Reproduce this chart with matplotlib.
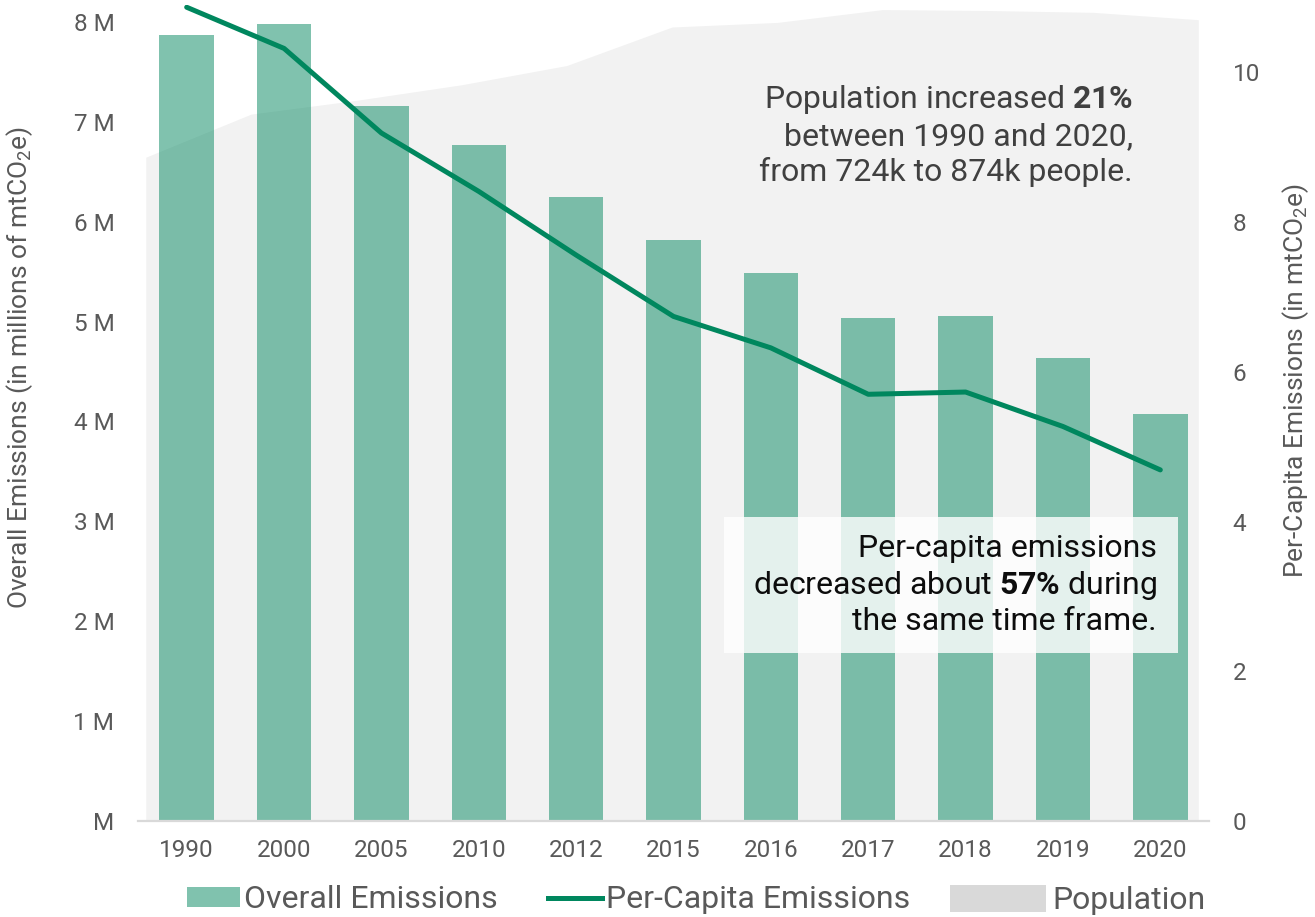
import numpy as np
import matplotlib.pyplot as plt
from matplotlib.patches import Rectangle, Patch
from matplotlib.lines import Line2D
from matplotlib.ticker import FuncFormatter

plt.rcParams['font.family'] = ['Roboto', 'DejaVu Sans']
plt.rcParams['mathtext.fontset'] = 'custom'
plt.rcParams['mathtext.rm'] = 'Roboto'
plt.rcParams['mathtext.bf'] = 'Roboto:bold'
plt.rcParams['mathtext.default'] = 'regular'

years = ['1990', '2000', '2005', '2010', '2012', '2015', '2016', '2017', '2018', '2019', '2020']
overall = [7.87, 7.98, 7.16, 6.77, 6.25, 5.82, 5.49, 5.04, 5.06, 4.64, 4.07]   # millions mtCO2e
per_capita = [10.87, 10.32, 9.19, 8.41, 7.56, 6.74, 6.32, 5.70, 5.73, 5.27, 4.69]
population = [724, 771, 786, 803, 824, 866, 871, 885, 884, 882, 874]   # thousands

bar_col = '#03875f'
line_col = '#00875e'
grey = '#595959'

W, H = 1315, 917
fig = plt.figure(figsize=(W / 100, H / 100), dpi=100)
ax_pop = fig.add_axes([138 / W, 1 - 821 / H, (1209 - 138) / W, (821 - 5) / H])
ax = fig.add_axes(ax_pop.get_position(), sharex=ax_pop)
ax2 = fig.add_axes(ax_pop.get_position(), sharex=ax_pop)
ax_pop.set_zorder(1)
ax.set_zorder(2)
ax2.set_zorder(3)
ax.patch.set_visible(False)
ax2.patch.set_visible(False)

x = np.arange(len(years))

# population area, spread from edge to edge of the plot
xp = np.linspace(-0.42, 10.39, len(years))
ax_pop.fill_between(xp, 0, population, color='#f2f2f2', lw=0)
ax_pop.set_ylim(0, 890)
ax_pop.axis('off')

# bars
ax.bar(x, overall, width=0.56, color=bar_col, alpha=0.5, lw=0)
ax.set_xlim(-0.5, 10.5)
ax.set_ylim(0, 8.17)
ax.set_yticks(range(9))
ax.yaxis.set_major_formatter(FuncFormatter(lambda v, p: 'M' if v == 0 else '%d M' % v))
ax.set_xticks(x)
ax.set_xticklabels(years)
ax.tick_params(axis='y', length=0, pad=17, labelsize=17.5, labelcolor=grey)
ax.tick_params(axis='x', length=0, pad=13, labelsize=17.5, labelcolor=grey)
for s in ['top', 'right', 'left']:
    ax.spines[s].set_visible(False)
ax.spines['bottom'].set_color('#d9d9d9')
ax.spines['bottom'].set_linewidth(1.6)
ax.set_ylabel('Overall Emissions (in millions of mtCO$_2$e)', fontsize=19, color=grey)
ax.yaxis.set_label_coords(-0.096, 0.556)

# per-capita line
ax2.plot(x, per_capita, color=line_col, lw=3.6, solid_capstyle='round', solid_joinstyle='round')
ax2.set_ylim(0, 10.9)
ax2.set_yticks(range(0, 11, 2))
ax2.yaxis.tick_right()
ax2.yaxis.set_label_position('right')
ax2.tick_params(axis='y', length=0, pad=17, labelsize=17.5, labelcolor=grey)
ax2.tick_params(axis='x', bottom=False, labelbottom=False)
for s in ax2.spines.values():
    s.set_visible(False)
ax2.set_ylabel('Per-Capita Emissions (in mtCO$_2$e)', fontsize=19, color=grey)
ax2.yaxis.set_label_coords(1.066, 0.54)

# annotations
fig.text(1133 / W, 1 - 135 / H,
         'Population increased $\\bf{21\\%}$\nbetween 1990 and 2020,\nfrom 724k to 874k people.',
         ha='right', va='center', fontsize=23, color='#404040', linespacing=1.25)
fig.add_artist(Rectangle((724 / W, 1 - 653 / H), (1178 - 724) / W, (653 - 517) / H,
                         transform=fig.transFigure, fc='white', alpha=0.8, ec='none', zorder=5))
fig.text(1157 / W, 1 - 585 / H,
         'Per-capita emissions\ndecreased about $\\bf{57\\%}$ during\nthe same time frame.',
         ha='right', va='center', fontsize=23, color='#0d0d0d', linespacing=1.22, zorder=6)

# legend, one entry at a time so each keeps its own key size
def add_key(handle, label, xpos, hl, hh, pad):
    lg = fig.legend(handles=[handle], labels=[label], loc='center left',
                    bbox_to_anchor=(xpos / W, 1 - 900 / H), frameon=False,
                    fontsize=23, labelcolor=grey, handlelength=hl, handleheight=hh,
                    handletextpad=pad, borderpad=0, borderaxespad=0)
    return lg

add_key(Patch(color=bar_col, alpha=0.5, lw=0), 'Overall Emissions', 187, 1.66, 0.56, 0.125)
add_key(Line2D([], [], color=line_col, lw=3.6), 'Per-Capita Emissions', 548, 1.69, 0.56, 0.125)
add_key(Patch(color='#d9d9d9', lw=0), 'Population', 950, 3.0, 0.95, 0.22)

fig.savefig('out.png', dpi=100)
